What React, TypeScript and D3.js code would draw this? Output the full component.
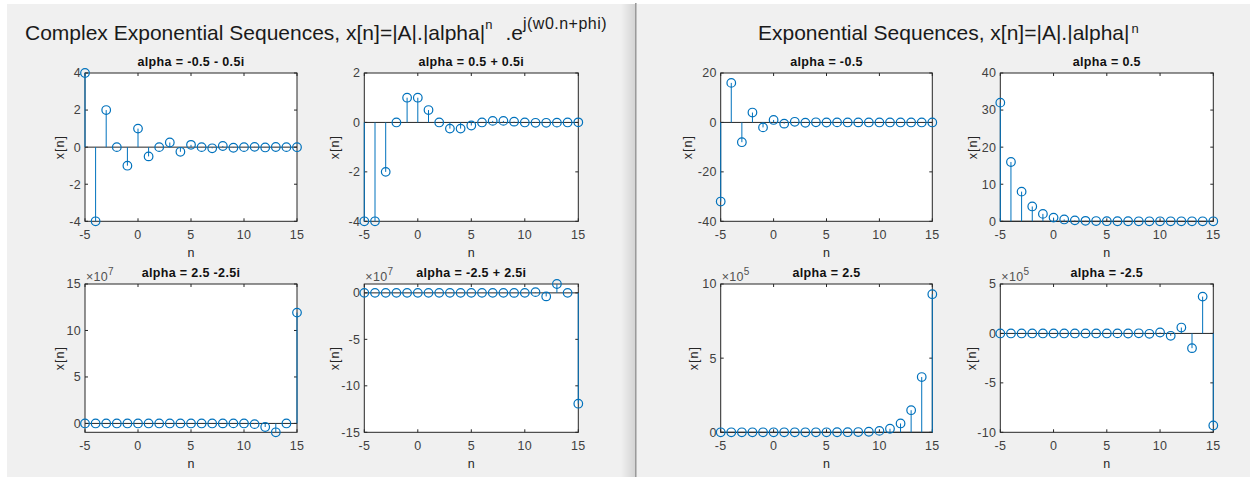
import React, { useEffect, useRef } from 'react';
import * as d3 from 'd3';

// sample index n, shared by every panel
const nIndex = [-5, -4, -3, -2, -1, 0, 1, 2, 3, 4, 5, 6, 7, 8, 9, 10, 11, 12, 13, 14, 15];
const nTicks = [-5, 0, 5, 10, 15];

// complex exponential sequences (real part plotted)
const xAlphaNegHalfC = [4, -4, 2, 0, -1, 1, -0.5, 0, 0.25, -0.25, 0.125, 0, -0.0625, 0.0625, -0.03125, 0, 0.015625, -0.015625, 0.0078, 0, -0.0039];
const xAlphaPosHalfC = [-4, -4, -2, 0, 1, 1, 0.5, 0, -0.25, -0.25, -0.125, 0, 0.0625, 0.0625, 0.03125, 0, -0.015625, -0.015625, -0.0078, 0, 0.0039];
const xAlphaPosBigC = [-0.00128, -0.0064, -0.016, 0, 0.2, 1, 2.5, 0, -31.25, -156.25, -390.625, 0, 4882.8, 24414.1, 61035.2, 0, -762939.5, -3814697.3, -9536743.2, 0, 119209289.6];
const xAlphaNegBigC = [0.00128, -0.0064, 0.016, 0, -0.2, 1, -2.5, 0, 31.25, -156.25, 390.625, 0, -4882.8, 24414.1, -61035.2, 0, 762939.5, -3814697.3, 9536743.2, 0, -119209289.6];

// real exponential sequences
const xAlphaNegHalf = [-32, 16, -8, 4, -2, 1, -0.5, 0.25, -0.125, 0.0625, -0.03125, 0.015625, -0.0078, 0.0039, -0.00195, 0.00098, -0.00049, 0.00024, -0.00012, 0.00006, -0.00003];
const xAlphaPosHalf = [32, 16, 8, 4, 2, 1, 0.5, 0.25, 0.125, 0.0625, 0.03125, 0.015625, 0.0078, 0.0039, 0.00195, 0.00098, 0.00049, 0.00024, 0.00012, 0.00006, 0.00003];
const xAlphaPosBig = [0.01024, 0.0256, 0.064, 0.16, 0.4, 1, 2.5, 6.25, 15.625, 39.06, 97.66, 244.14, 610.35, 1525.88, 3814.7, 9536.7, 23841.9, 59604.6, 149011.6, 372529.0, 931322.6];
const xAlphaNegBig = [-0.01024, 0.0256, -0.064, 0.16, -0.4, 1, -2.5, 6.25, -15.625, 39.06, -97.66, 244.14, -610.35, 1525.88, -3814.7, 9536.7, -23841.9, 59604.6, -149011.6, 372529.0, -931322.6];

const panelTitles = [
    "alpha = -0.5 - 0.5i", "alpha = 0.5 + 0.5i", "alpha = 2.5 -2.5i", "alpha = -2.5 + 2.5i",
    "alpha = -0.5", "alpha = 0.5", "alpha = 2.5", "alpha = -2.5"
];

const yTicksA = [-4, -2, 0, 2, 4];
const yTicksB = [-4, -2, 0, 2];
const yTicksC = [0, 5e7, 10e7, 15e7];
const yTicksD = [-15e7, -10e7, -5e7, 0];
const yTicksE = [-40, -20, 0, 20];
const yTicksF = [0, 10, 20, 30, 40];
const yTicksG = [0, 5e5, 10e5];
const yTicksH = [-10e5, -5e5, 0, 5e5];

const font = '"Liberation Sans", Arial, sans-serif';
const axisColor = "#262626";
const stemColor = "#0072BD";

const colLeft = [85, 364.3, 720.7, 1000.3];
const colWidth = [212, 214, 211.6, 213];
const rowTop = [73, 284];
const rowHeight = 148.3;

const panels = [
    { values: xAlphaNegHalfC, col: 0, row: 0, title: panelTitles[0], yTicks: yTicksA, yDomain: [-4, 4], exp: 0, ylabelOff: 25 },
    { values: xAlphaPosHalfC, col: 1, row: 0, title: panelTitles[1], yTicks: yTicksB, yDomain: [-4, 2], exp: 0, ylabelOff: 29 },
    { values: xAlphaPosBigC, col: 0, row: 1, title: panelTitles[2], yTicks: yTicksC, yDomain: null, top: 15e7, exp: 7, ylabelOff: 25 },
    { values: xAlphaNegBigC, col: 1, row: 1, title: panelTitles[3], yTicks: yTicksD, yDomain: null, bottom: -15e7, exp: 7, ylabelOff: 29 },
    { values: xAlphaNegHalf, col: 2, row: 0, title: panelTitles[4], yTicks: yTicksE, yDomain: [-40, 20], exp: 0, ylabelOff: 33 },
    { values: xAlphaPosHalf, col: 3, row: 0, title: panelTitles[5], yTicks: yTicksF, yDomain: [0, 40], exp: 0, ylabelOff: 27 },
    { values: xAlphaPosBig, col: 2, row: 1, title: panelTitles[6], yTicks: yTicksG, yDomain: [0, 10e5], exp: 5, ylabelOff: 27 },
    { values: xAlphaNegBig, col: 3, row: 1, title: panelTitles[7], yTicks: yTicksH, yDomain: [-10e5, 5e5], exp: 5, ylabelOff: 28.5 },
];

const drawPanel = (svg, p) => {
    const left = colLeft[p.col];
    const width = colWidth[p.col];
    const top = rowTop[p.row];
    const height = rowHeight;
    const right = left + width;
    const bottom = top + height;

    let yDomain = p.yDomain;
    if (yDomain === null) {
        yDomain = p.top !== undefined ? [d3.min(p.values), p.top] : [p.bottom, d3.max(p.values)];
    }

    const x = d3.scaleLinear().domain([-5, 15]).range([left, right]);
    const y = d3.scaleLinear().domain(yDomain).range([bottom, top]);
    const data = nIndex.map((n, i) => ({ n, v: p.values[i] }));
    const scale = Math.pow(10, p.exp);

    const g = svg.append("g").attr("class", "stem-panel");

    g.append("rect")
        .attr("x", left).attr("y", top)
        .attr("width", width).attr("height", height)
        .attr("fill", "#fff");

    // ticks point inward, mirrored on all sides
    const tick = 3;
    g.append("g").selectAll("line")
        .data(nTicks)
        .join("line")
            .attr("x1", d => x(d)).attr("x2", d => x(d))
            .attr("y1", bottom).attr("y2", bottom - tick)
            .attr("stroke", axisColor);
    g.append("g").selectAll("line")
        .data(nTicks)
        .join("line")
            .attr("x1", d => x(d)).attr("x2", d => x(d))
            .attr("y1", top).attr("y2", top + tick)
            .attr("stroke", axisColor);
    g.append("g").selectAll("line")
        .data(p.yTicks)
        .join("line")
            .attr("x1", left).attr("x2", left + tick)
            .attr("y1", d => y(d)).attr("y2", d => y(d))
            .attr("stroke", axisColor);
    g.append("g").selectAll("line")
        .data(p.yTicks)
        .join("line")
            .attr("x1", right).attr("x2", right - tick)
            .attr("y1", d => y(d)).attr("y2", d => y(d))
            .attr("stroke", axisColor);

    g.append("rect")
        .attr("x", left).attr("y", top)
        .attr("width", width).attr("height", height)
        .attr("fill", "none")
        .attr("stroke", axisColor)
        .attr("stroke-width", 1);

    // tick labels
    g.append("g").selectAll("text")
        .data(nTicks)
        .join("text")
            .attr("x", d => x(d))
            .attr("y", bottom + 18)
            .attr("text-anchor", "middle")
            .attr("font-family", font)
            .attr("font-size", 12.5)
            .attr("letter-spacing", 0.3)
            .attr("fill", "#404040")
            .text(d => d);
    g.append("g").selectAll("text")
        .data(p.yTicks)
        .join("text")
            .attr("x", left - 4)
            .attr("y", d => y(d) + 4.4)
            .attr("text-anchor", "end")
            .attr("font-family", font)
            .attr("font-size", 12.5)
            .attr("letter-spacing", 0.3)
            .attr("fill", "#404040")
            .text(d => d / scale);

    if (p.exp > 0) {
        const t = g.append("text")
            .attr("x", left + 1)
            .attr("y", top - 3)
            .attr("font-family", font)
            .attr("font-size", 12.5)
            .attr("letter-spacing", 0.3)
            .attr("fill", "#505050");
        t.append("tspan").text("\u00d710");
        t.append("tspan").attr("dy", -6).attr("font-size", 10).text(p.exp);
    }

    // stem baseline
    g.append("line")
        .attr("x1", left).attr("x2", right)
        .attr("y1", y(0)).attr("y2", y(0))
        .attr("stroke", axisColor)
        .attr("stroke-width", 1);

    g.append("g").selectAll("line")
        .data(data)
        .join("line")
            .attr("x1", d => x(d.n)).attr("x2", d => x(d.n))
            .attr("y1", y(0)).attr("y2", d => y(d.v))
            .attr("stroke", stemColor)
            .attr("stroke-width", 1);

    g.append("g").selectAll("circle")
        .data(data)
        .join("circle")
            .attr("cx", d => x(d.n))
            .attr("cy", d => y(d.v))
            .attr("r", 4.3)
            .attr("fill", "none")
            .attr("stroke", stemColor)
            .attr("stroke-width", 1.2);

    g.append("text")
        .attr("x", (left + right) / 2)
        .attr("y", top - 7)
        .attr("text-anchor", "middle")
        .attr("font-family", font)
        .attr("font-size", 12.5)
        .attr("font-weight", "bold")
        .attr("letter-spacing", 0.35)
        .attr("fill", "#111")
        .text(p.title);

    g.append("text")
        .attr("x", (left + right) / 2)
        .attr("y", bottom + 36)
        .attr("text-anchor", "middle")
        .attr("font-family", font)
        .attr("font-size", 12.5)
        .attr("fill", axisColor)
        .text("n");

    const yl = left - p.ylabelOff;
    g.append("text")
        .attr("transform", `translate(${yl + 4},${(top + bottom) / 2}) rotate(-90)`)
        .attr("text-anchor", "middle")
        .attr("font-family", font)
        .attr("font-size", 12.5)
        .attr("letter-spacing", 1)
        .attr("fill", axisColor)
        .text("x[n]");
};

const App = () => {
    const wrapper = useRef(null);

    useEffect(() => {
        const svg = d3.select(wrapper.current);
        svg.selectAll("*").remove();

        const defs = svg.append("defs");
        const grad = defs.append("linearGradient").attr("id", "win-shadow");
        grad.append("stop").attr("offset", "0%").attr("stop-color", "#f0f0f0");
        grad.append("stop").attr("offset", "100%").attr("stop-color", "#d4d4d4");

        // two figure windows
        svg.append("rect").attr("x", 7).attr("y", 4).attr("width", 628).attr("height", 473).attr("fill", "#f0f0f0");
        svg.append("rect").attr("x", 621).attr("y", 4).attr("width", 14).attr("height", 473).attr("fill", "url(#win-shadow)");
        svg.append("rect").attr("x", 635).attr("y", 3).attr("width", 1.6).attr("height", 474).attr("fill", "#9a9a9a");
        svg.append("rect").attr("x", 637).attr("y", 4).attr("width", 613).attr("height", 473).attr("fill", "#f0f0f0");

        // main titles
        const t1 = svg.append("text")
            .attr("x", 25).attr("y", 40)
            .attr("font-family", font).attr("font-size", 21)
            .attr("fill", "#1a1a1a");
        t1.append("tspan").text("Complex Exponential Sequences, x[n]=|A|.|alpha|");
        t1.append("tspan").attr("dy", -11).attr("font-size", 13).text("n");
        t1.append("tspan").attr("dy", 11).attr("dx", 13).text(".e");
        t1.append("tspan").attr("dy", -11).attr("font-size", 16).attr("letter-spacing", 0.5).text("j(w0.n+phi)");

        const t2 = svg.append("text")
            .attr("x", 758).attr("y", 40)
            .attr("font-family", font).attr("font-size", 21)
            .attr("fill", "#1a1a1a");
        t2.append("tspan").text("Exponential Sequences, x[n]=|A|.|alpha|");
        t2.append("tspan").attr("dy", -7).attr("dx", 2).attr("font-size", 13).text("n");

        panels.forEach(p => drawPanel(svg, p));
    }, []);

    return (
        <svg ref={wrapper} width={1250} height={477} style={{ position: "absolute", left: 0, top: 0 }} />
    );
};

export default App;
